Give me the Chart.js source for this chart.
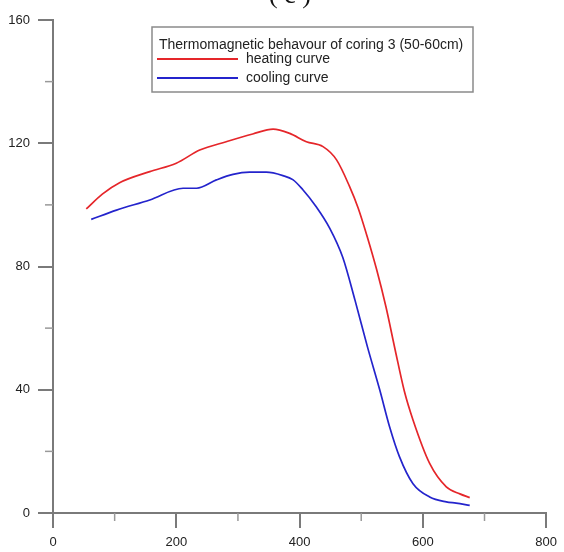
<!DOCTYPE html>
<html>
<head>
<meta charset="utf-8">
<script src="https://cdn.jsdelivr.net/npm/chart.js@4.4.1/dist/chart.umd.min.js"></script>
<style>
  html,body{margin:0;padding:0;background:#fff;}
  #wrap{width:564px;height:552px;position:relative;}
</style>
</head>
<body>
<div id="wrap"><canvas id="c" width="564" height="552"></canvas></div>
<script>
// thermomagnetic curve, coring 3 (50-60cm)
const chartTitle = 'Thermomagnetic behavour of coring 3 (50-60cm)';
const panelLabel = '( c )';

const heatT = [54, 80, 108, 157, 200, 238, 281, 324, 357, 384, 411, 438, 460, 481, 495, 510, 525, 540, 555, 570, 584, 611, 638, 660, 676];
const heatV = [98.7, 103.5, 107.2, 110.8, 113.5, 117.8, 120.5, 123, 124.6, 123.2, 120.5, 118.9, 114.6, 106, 99, 89.5, 79, 67, 53, 39.5, 30.2, 16.1, 8.5, 6.2, 5.0];

const coolT = [62, 103, 157, 211, 233, 265, 292, 319, 346, 373, 389, 405, 427, 449, 470, 490, 510, 530, 546, 562, 584, 611, 638, 654, 676];
const coolV = [95.3, 98.3, 101.6, 105.4, 105.4, 108.1, 109.9, 110.6, 110.6, 109.5, 108.2, 105, 99.4, 92.4, 83, 69, 54, 40, 28, 18.3, 9.5, 5.2, 3.6, 3.2, 2.5];

const xTicks = [0, 200, 400, 600, 800];
const xMinor = [100, 300, 500, 700];
const yTicks = [0, 40, 80, 120, 160];
const yMinor = [20, 60, 100, 140];

const axisColor = '#7a7a7a';
const font = { family: '"Liberation Sans", Arial, sans-serif', size: 13 };

function pts(xs, ys){ return xs.map((x,i)=>({x:x, y:ys[i]})); }

// minor ticks + panel label + framed legend
const decor = {
  id: 'decor',
  afterDraw(chart){
    const ctx = chart.ctx, xs = chart.scales.x, ys = chart.scales.y;
    const a = chart.chartArea;
    ctx.save();
    ctx.strokeStyle = '#999'; ctx.lineWidth = 1.5;
    for (const v of xMinor){ const px = xs.getPixelForValue(v); ctx.beginPath(); ctx.moveTo(px, a.bottom); ctx.lineTo(px, a.bottom+8); ctx.stroke(); }
    for (const v of yMinor){ const py = ys.getPixelForValue(v); ctx.beginPath(); ctx.moveTo(a.left, py); ctx.lineTo(a.left-8, py); ctx.stroke(); }

    ctx.fillStyle = '#111';
    ctx.font = '26px "Liberation Serif", "Times New Roman", serif';
    ctx.textAlign = 'center'; ctx.textBaseline = 'alphabetic';
    ctx.fillText(panelLabel, 290, 3);

    // legend box
    const bx = 152, by = 27, bw = 321, bh = 65;
    ctx.fillStyle = '#fff'; ctx.fillRect(bx, by, bw, bh);
    ctx.strokeStyle = '#8a8a8a'; ctx.lineWidth = 1.5; ctx.strokeRect(bx, by, bw, bh);
    ctx.font = '14px "Liberation Sans", Arial, sans-serif';
    ctx.fillStyle = '#222'; ctx.textAlign = 'left'; ctx.textBaseline = 'middle';
    ctx.fillText(chartTitle, 159, 45);
    chart.data.datasets.forEach((ds, i)=>{
      const y = 59 + i*19;
      ctx.strokeStyle = ds.borderColor; ctx.lineWidth = 2;
      ctx.beginPath(); ctx.moveTo(157, y); ctx.lineTo(238, y); ctx.stroke();
      ctx.fillStyle = '#222';
      ctx.fillText(ds.label, 246, y);
    });
    ctx.restore();
  }
};

new Chart(document.getElementById('c'), {
  type: 'line',
  data: {
    datasets: [
      { label: 'heating curve', data: pts(heatT, heatV), borderColor: '#e5262a', borderWidth: 1.7, pointRadius: 0, cubicInterpolationMode: 'monotone', fill: false },
      { label: 'cooling curve', data: pts(coolT, coolV), borderColor: '#2424cc', borderWidth: 1.7, pointRadius: 0, cubicInterpolationMode: 'monotone', fill: false }
    ]
  },
  options: {
    responsive: false, animation: false, devicePixelRatio: 1,
    layout: { padding: { left: 0, right: 17, top: 20, bottom: 0 } },
    plugins: { legend: { display: false }, tooltip: { enabled: false } },
    scales: {
      x: {
        type: 'linear', min: 0, max: 800,
        afterFit: s => { s.height = 39; },
        afterBuildTicks: s => { s.ticks = xTicks.map(v=>({value:v})); },
        grid: { drawOnChartArea: false, drawTicks: true, tickLength: 15, color: axisColor, lineWidth: 2 },
        border: { display: true, color: axisColor, width: 2 },
        ticks: { padding: 7, color: '#222', font: font, maxRotation: 0 }
      },
      y: {
        type: 'linear', min: 0, max: 160,
        afterFit: s => { s.width = 53; },
        afterBuildTicks: s => { s.ticks = yTicks.map(v=>({value:v})); },
        grid: { drawOnChartArea: false, drawTicks: true, tickLength: 15, color: axisColor, lineWidth: 2 },
        border: { display: true, color: axisColor, width: 2 },
        ticks: { padding: 8, color: '#222', font: font }
      }
    }
  },
  plugins: [decor]
});
</script>
</body>
</html>
